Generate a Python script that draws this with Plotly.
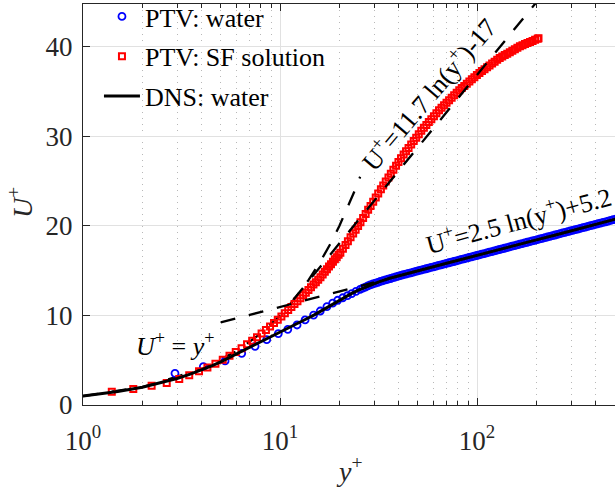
import plotly.graph_objects as go

# ---------------- data ----------------
# PTV measurements in water (y+, U+)
water_yp = [2.93, 4.08, 5.26, 6.39, 7.47, 8.56, 9.80, 10.95, 12.2, 13.4,
            14.8, 16.0, 17.3, 18.5, 19.6, 20.8, 22.0, 23.1, 24.3,
            25.5, 26.3, 27.1, 27.9, 28.7, 29.6, 30.5, 31.4, 32.3, 33.3,
            34.3, 35.3, 36.4, 37.5, 38.6, 39.8, 41.0, 42.2, 43.5, 44.8,
            46.1, 47.5, 48.9, 50.4, 51.9, 53.5, 55.1, 56.7, 58.4, 60.2,
            62.0, 63.8, 65.7, 67.7, 69.8, 71.9, 74.0, 76.2, 78.5, 80.9,
            83.3, 85.8, 88.4, 91.0, 93.8, 96.6, 99.5, 102.5, 105.5, 108.7,
            112.0, 115.3, 118.8, 122.3, 126.0, 129.8, 133.7, 137.7, 141.8, 146.1,
            150.5, 155.0, 159.6, 164.4, 169.3, 174.4, 179.6, 185.0, 190.6, 196.3,
            202.2, 208.3, 214.5, 220.9, 227.6, 234.4, 241.4, 248.7, 256.1, 263.8,
            271.7, 279.9, 288.3, 296.9, 305.8, 315.0, 324.4, 334.2, 344.2, 354.5,
            365.1, 376.1, 387.4, 399.0, 411.0, 423.3, 436.0, 449.1, 462.6, 476.4,
            490.7, 505.4, 520.6]
water_up = [3.54, 4.28, 4.92, 5.77, 6.55, 7.30, 7.98, 8.45, 8.94, 9.50,
            10.05, 10.50, 11.00, 11.38, 11.70, 11.98, 12.22, 12.45, 12.70,
            12.92, 13.05, 13.17, 13.30, 13.41, 13.52, 13.62, 13.71, 13.80, 13.88,
            13.97, 14.05, 14.13, 14.22, 14.30, 14.39, 14.47, 14.55, 14.63, 14.70,
            14.77, 14.85, 14.92, 15.00, 15.07, 15.15, 15.22, 15.29, 15.37, 15.44,
            15.52, 15.59, 15.66, 15.74, 15.81, 15.89, 15.96, 16.03, 16.11, 16.18,
            16.26, 16.33, 16.40, 16.48, 16.55, 16.63, 16.70, 16.77, 16.85, 16.92,
            17.00, 17.07, 17.14, 17.22, 17.29, 17.37, 17.44, 17.51, 17.59, 17.66,
            17.74, 17.81, 17.88, 17.96, 18.03, 18.11, 18.18, 18.25, 18.33, 18.40,
            18.48, 18.55, 18.62, 18.70, 18.77, 18.85, 18.92, 18.99, 19.07, 19.14,
            19.22, 19.29, 19.36, 19.44, 19.51, 19.59, 19.66, 19.73, 19.81, 19.88,
            19.96, 20.03, 20.10, 20.18, 20.25, 20.33, 20.40, 20.47, 20.55, 20.62,
            20.70, 20.77, 20.84]

# PTV measurements in the SF solution (y+, U+)
sf_yp = [1.40, 1.80, 2.23, 2.66, 3.08, 3.46, 3.88, 4.28, 4.70, 5.12,
         5.54, 5.96, 6.38, 6.80, 7.22, 7.64, 8.06, 8.48, 8.90, 9.32,
         9.74, 10.16, 10.58, 11.00, 11.42, 11.84, 12.26, 12.68, 13.10, 13.52,
         13.94, 14.36, 14.78, 15.20, 15.62, 16.04, 16.46, 16.88, 17.30, 17.72,
         18.14, 18.56, 18.98, 19.40, 19.82, 20.24, 20.85, 21.5, 22.1, 22.8,
         23.5, 24.2, 24.9, 25.6, 26.4, 27.2, 28.0, 28.8, 29.7, 30.6,
         31.5, 32.5, 33.4, 34.4, 35.5, 36.5, 37.6, 38.8, 39.9, 41.1,
         42.4, 43.6, 44.9, 46.3, 47.7, 49.1, 50.6, 52.1, 53.7, 55.3,
         56.9, 58.6, 60.4, 62.2, 64.1, 66.0, 68.0, 70.0, 72.1, 74.3,
         76.5, 78.8, 81.2, 83.6, 86.1, 88.7, 91.4, 94.1, 96.9, 99.8,
         102.8, 105.9, 109.1, 112.4, 115.7, 119.2, 122.8, 126.5, 130.3, 134.2,
         138.2, 142.3, 146.6, 151.0, 155.5, 160.2, 165.0, 170.0, 175.1, 180.3,
         185.7, 191.3, 197.0, 203.0, 205.0]
sf_up = [1.49, 1.79, 2.14, 2.45, 2.90, 3.32, 3.78, 4.20, 4.62, 5.05,
         5.50, 5.92, 6.35, 6.78, 7.18, 7.58, 7.98, 8.38, 8.78, 9.16,
         9.52, 9.88, 10.24, 10.62, 10.95, 11.28, 11.60, 11.92, 12.25, 12.55,
         12.86, 13.15, 13.45, 13.72, 14.00, 14.28, 14.59, 14.88, 15.17, 15.46,
         15.73, 16.00, 16.27, 16.52, 16.78, 17.02, 17.45, 17.88, 18.30, 18.73,
         19.16, 19.58, 20.00, 20.43, 20.89, 21.35, 21.80, 22.24, 22.71, 23.17,
         23.62, 24.10, 24.52, 24.96, 25.42, 25.83, 26.27, 26.73, 27.15, 27.58,
         27.98, 28.34, 28.72, 29.11, 29.50, 29.87, 30.26, 30.63, 30.97, 31.29,
         31.61, 31.93, 32.27, 32.59, 32.93, 33.21, 33.49, 33.77, 34.05, 34.34,
         34.61, 34.89, 35.17, 35.41, 35.65, 35.89, 36.14, 36.38, 36.62, 36.86,
         37.10, 37.31, 37.52, 37.73, 37.93, 38.14, 38.35, 38.56, 38.76, 38.93,
         39.09, 39.25, 39.42, 39.58, 39.75, 39.91, 40.08, 40.20, 40.32, 40.44,
         40.56, 40.68, 40.80, 40.92, 40.96]

# DNS profile in water (y+, U+)
dns_yp = [1.0, 1.5, 2.0, 2.5, 3.0, 3.5, 4.0, 4.5, 5.0, 6.0, 7.0, 8.0, 9.0, 10.0, 11.0, 12.0,
          13.5, 15.0, 17.0, 19.0, 21.0, 23.0, 25.0, 28.0, 32.0, 36.0, 40.0, 45.0, 50.0, 60.0,
          70.0, 85.0, 100.0, 125.0, 150.0, 200.0, 250.0, 300.0, 400.0, 500.0, 520.0]
dns_up = [1.00, 1.50, 1.99, 2.48, 2.96, 3.44, 3.91, 4.37, 4.82, 5.68, 6.45, 7.12, 7.68, 8.18,
          8.62, 9.02, 9.58, 10.10, 10.78, 11.38, 11.98, 12.44, 12.83, 13.30, 13.78, 14.16,
          14.44, 14.76, 15.02, 15.45, 15.83, 16.30, 16.72, 17.28, 17.74, 18.45, 19.00, 19.46,
          20.17, 20.74, 20.84]

# reference laws: viscous sublayer, log law and Virk's maximum drag reduction asymptote
visc_yp = [1.0, 2.0, 4.0, 6.0, 8.0, 10.0, 12.0, 14.0, 16.0, 18.0, 20.0, 22.0, 24.0, 25.5]
visc_up = [1.0, 2.0, 4.0, 6.0, 8.0, 10.0, 12.0, 14.0, 16.0, 18.0, 20.0, 22.0, 24.0, 25.5]
loglaw_yp = [5.0, 30.0]
loglaw_up = [9.22, 13.70]
virk_yp = [11.7, 200.0]
virk_up = [11.78, 44.99]

x_tickvals = [1, 10, 100]
x_ticktext = ["10<sup>0</sup>", "10<sup>1</sup>", "10<sup>2</sup>"]
x_minorvals = [2, 3, 4, 5, 6, 7, 8, 9, 20, 30, 40, 50, 60, 70, 80, 90, 200, 300, 400, 500]
y_tickvals = [0, 10, 20, 30, 40]

assert len(water_yp) == len(water_up)
assert len(sf_yp) == len(sf_up)
assert len(dns_yp) == len(dns_up)

SERIF = "Liberation Serif"
DASH = "15px,14px"

fig = go.Figure()

fig.add_trace(go.Scatter(x=visc_yp, y=visc_up, mode="lines", showlegend=False,
                         line=dict(color="black", width=2.3, dash=DASH), hoverinfo="skip"))
fig.add_trace(go.Scatter(x=water_yp, y=water_up, mode="markers", name="PTV: water",
                         legendgroup="a",
                         marker=dict(symbol="circle-open", size=7, color="#0000ff",
                                     line=dict(width=1.8, color="#0000ff"))))
fig.add_trace(go.Scatter(x=sf_yp, y=sf_up, mode="markers", name="PTV: SF solution",
                         legendgroup="b",
                         marker=dict(symbol="square-open", size=6, color="#ff0000",
                                     line=dict(width=2, color="#ff0000"))))
fig.add_trace(go.Scatter(x=dns_yp, y=dns_up, mode="lines", name="DNS: water",
                         legendgroup="c",
                         line=dict(color="black", width=3)))
fig.add_trace(go.Scatter(x=loglaw_yp, y=loglaw_up, mode="lines", showlegend=False,
                         line=dict(color="black", width=2.3, dash=DASH), hoverinfo="skip"))
fig.add_trace(go.Scatter(x=virk_yp, y=virk_up, mode="lines", showlegend=False,
                         line=dict(color="black", width=2.3, dash=DASH), hoverinfo="skip"))

tickfont = dict(family=SERIF, size=27, color="#262626")

fig.update_xaxes(
    type="log", range=[0, 2.7],
    tickvals=x_tickvals, ticktext=x_ticktext, tickfont=tickfont,
    ticks="inside", ticklen=7, tickwidth=1, tickcolor="#262626",
    showline=True, linecolor="#262626", linewidth=1.2, mirror="ticks",
    showgrid=True, gridcolor="#e1e1e1", gridwidth=1,
    ticklabelstandoff=11,
    minor=dict(tickvals=x_minorvals, ticks="inside", ticklen=4, tickcolor="#262626",
               showgrid=True, gridcolor="#b8b8b8", gridwidth=1, griddash="1px,5px"),
    zeroline=False,
)
fig.update_yaxes(
    range=[0, 44.8], tickvals=y_tickvals, tickfont=tickfont,
    ticks="inside", ticklen=7, tickwidth=1, tickcolor="#262626",
    showline=True, linecolor="#262626", linewidth=1.2, mirror=False,
    showgrid=True, gridcolor="#e1e1e1", gridwidth=1,
    ticklabelstandoff=4, zeroline=False,
)

annot_font = dict(family=SERIF, size=26, color="black")
fig.add_annotation(x=0.467, y=6.8, xref="x", yref="y", showarrow=False,
                   xanchor="center", yanchor="middle",
                   text="<i>U</i><sup>+</sup> = <i>y</i><sup>+</sup>",
                   font=annot_font)
fig.add_annotation(x=1.752, y=34.8, xref="x", yref="y", showarrow=False, textangle=-49.5,
                   xanchor="center", yanchor="middle",
                   text="U<sup>+</sup>=11.7 ln(y<sup>+</sup>)-17", font=annot_font)
fig.add_annotation(x=2.208, y=20.7, xref="x", yref="y", showarrow=False, textangle=-15,
                   xanchor="center", yanchor="middle",
                   text="U<sup>+</sup>=2.5 ln(y<sup>+</sup>)+5.2", font=annot_font)

# axis titles
fig.add_annotation(x=0.5, y=-0.162, xref="paper", yref="paper", showarrow=False,
                   xanchor="center", yanchor="middle",
                   text="<i>y</i><sup>+</sup>", font=dict(family=SERIF, size=28, color="#262626"))
fig.add_annotation(x=-0.1165, y=0.504, xref="paper", yref="paper", showarrow=False,
                   xanchor="center", yanchor="middle",
                   textangle=-90, text="<i>U</i><sup>+</sup>",
                   font=dict(family=SERIF, size=28, color="#262626"))

fig.update_layout(
    width=615, height=490,
    margin=dict(l=83, r=0, t=4, b=85, autoexpand=False),
    paper_bgcolor="white", plot_bgcolor="white",
    legend=dict(x=0.030, y=1.0274, xanchor="left", yanchor="top",
                bgcolor="rgba(0,0,0,0)", borderwidth=0, itemwidth=36,
                font=dict(family=SERIF, size=26, color="black"),
                traceorder="grouped", tracegroupgap=3),
)

fig.write_html("out.html")
